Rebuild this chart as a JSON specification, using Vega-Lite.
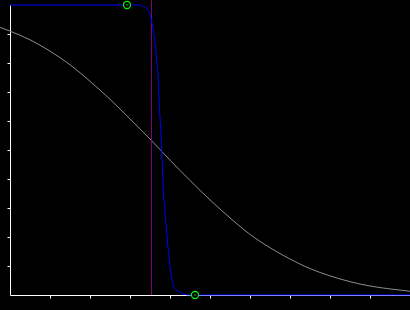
{
  "$schema": "https://vega.github.io/schema/vega-lite/v6.json",
  "autosize": "none",
  "width": 400,
  "height": 290,
  "padding": {"left": 10, "top": 5, "right": 0, "bottom": 15},
  "background": "#000000",
  "config": {
    "view": {"stroke": null},
    "axis": {"domainColor": "#ffffff", "tickColor": "#ffffff", "labels": false, "title": null, "grid": false, "tickSize": 3, "domainWidth": 1, "tickWidth": 1}
  },
  "datasets": {
    "gray": [
      {"x": -0.25, "y": 0.923}, {"x": 0, "y": 0.910}, {"x": 0.5, "y": 0.880}, {"x": 1.0, "y": 0.841},
      {"x": 1.5, "y": 0.794}, {"x": 2.0, "y": 0.737}, {"x": 2.5, "y": 0.675}, {"x": 3.0, "y": 0.607},
      {"x": 3.5, "y": 0.538}, {"x": 4.0, "y": 0.465}, {"x": 4.5, "y": 0.395}, {"x": 5.0, "y": 0.328},
      {"x": 5.5, "y": 0.266}, {"x": 6.0, "y": 0.209}, {"x": 6.5, "y": 0.163}, {"x": 7.0, "y": 0.124},
      {"x": 7.5, "y": 0.091}, {"x": 8.0, "y": 0.066}, {"x": 8.5, "y": 0.046}, {"x": 9.0, "y": 0.031},
      {"x": 9.5, "y": 0.021}, {"x": 10, "y": 0.013}
    ],
    "blue": [
      {"x": 0, "y": 1}, {"x": 3.25, "y": 1}, {"x": 3.333, "y": 0.994}, {"x": 3.417, "y": 0.989},
      {"x": 3.483, "y": 0.971}, {"x": 3.55, "y": 0.938}, {"x": 3.625, "y": 0.869}, {"x": 3.667, "y": 0.81},
      {"x": 3.708, "y": 0.741}, {"x": 3.742, "y": 0.628}, {"x": 3.775, "y": 0.559}, {"x": 3.792, "y": 0.5},
      {"x": 3.817, "y": 0.421}, {"x": 3.833, "y": 0.362}, {"x": 3.875, "y": 0.293}, {"x": 3.917, "y": 0.214},
      {"x": 3.958, "y": 0.155}, {"x": 4.0, "y": 0.097}, {"x": 4.042, "y": 0.062}, {"x": 4.083, "y": 0.034},
      {"x": 4.167, "y": 0.017}, {"x": 4.25, "y": 0.009}, {"x": 4.333, "y": 0.003}, {"x": 4.5, "y": 0},
      {"x": 10, "y": 0}
    ],
    "marker": [{"x": 2.925, "y": 1}, {"x": 4.625, "y": 0}],
    "vline": [{"x": 3.5375, "y": 0, "y2": 1.017}]
  },
  "encoding": {
    "x": {"field": "x", "type": "quantitative", "scale": {"domain": [0, 10], "nice": false, "zero": false},
          "axis": {"values": [1, 2, 3, 4, 5, 6, 7, 8, 9], "tickCount": 10}},
    "y": {"field": "y", "type": "quantitative", "scale": {"domain": [0, 1], "nice": false, "zero": false},
          "axis": {"values": [0.1, 0.2, 0.3, 0.4, 0.5, 0.6, 0.7, 0.8, 0.9], "tickCount": 10}}
  },
  "layer": [
    {
      "data": {"name": "gray"},
      "mark": {"type": "line", "color": "#8c8c8c", "strokeWidth": 1, "interpolate": "monotone"}
    },
    {
      "data": {"name": "vline"},
      "mark": {"type": "rule", "color": "#800080", "strokeWidth": 1},
      "encoding": {
        "y2": {"field": "y2"}
      }
    },
    {
      "data": {"name": "blue"},
      "mark": {"type": "line", "color": "#0000ff", "strokeWidth": 1, "interpolate": "monotone"}
    },
    {
      "data": {"name": "marker"},
      "mark": {"type": "point", "shape": "circle", "size": 50, "stroke": "#00ff00", "fill": "#000000", "filled": false, "fillOpacity": 1, "strokeWidth": 1.2, "opacity": 1}
    },
    {
      "data": {"name": "marker"},
      "mark": {"type": "point", "shape": "circle", "size": 2, "fill": "#00ff00", "filled": true, "opacity": 1}
    }
  ]
}
